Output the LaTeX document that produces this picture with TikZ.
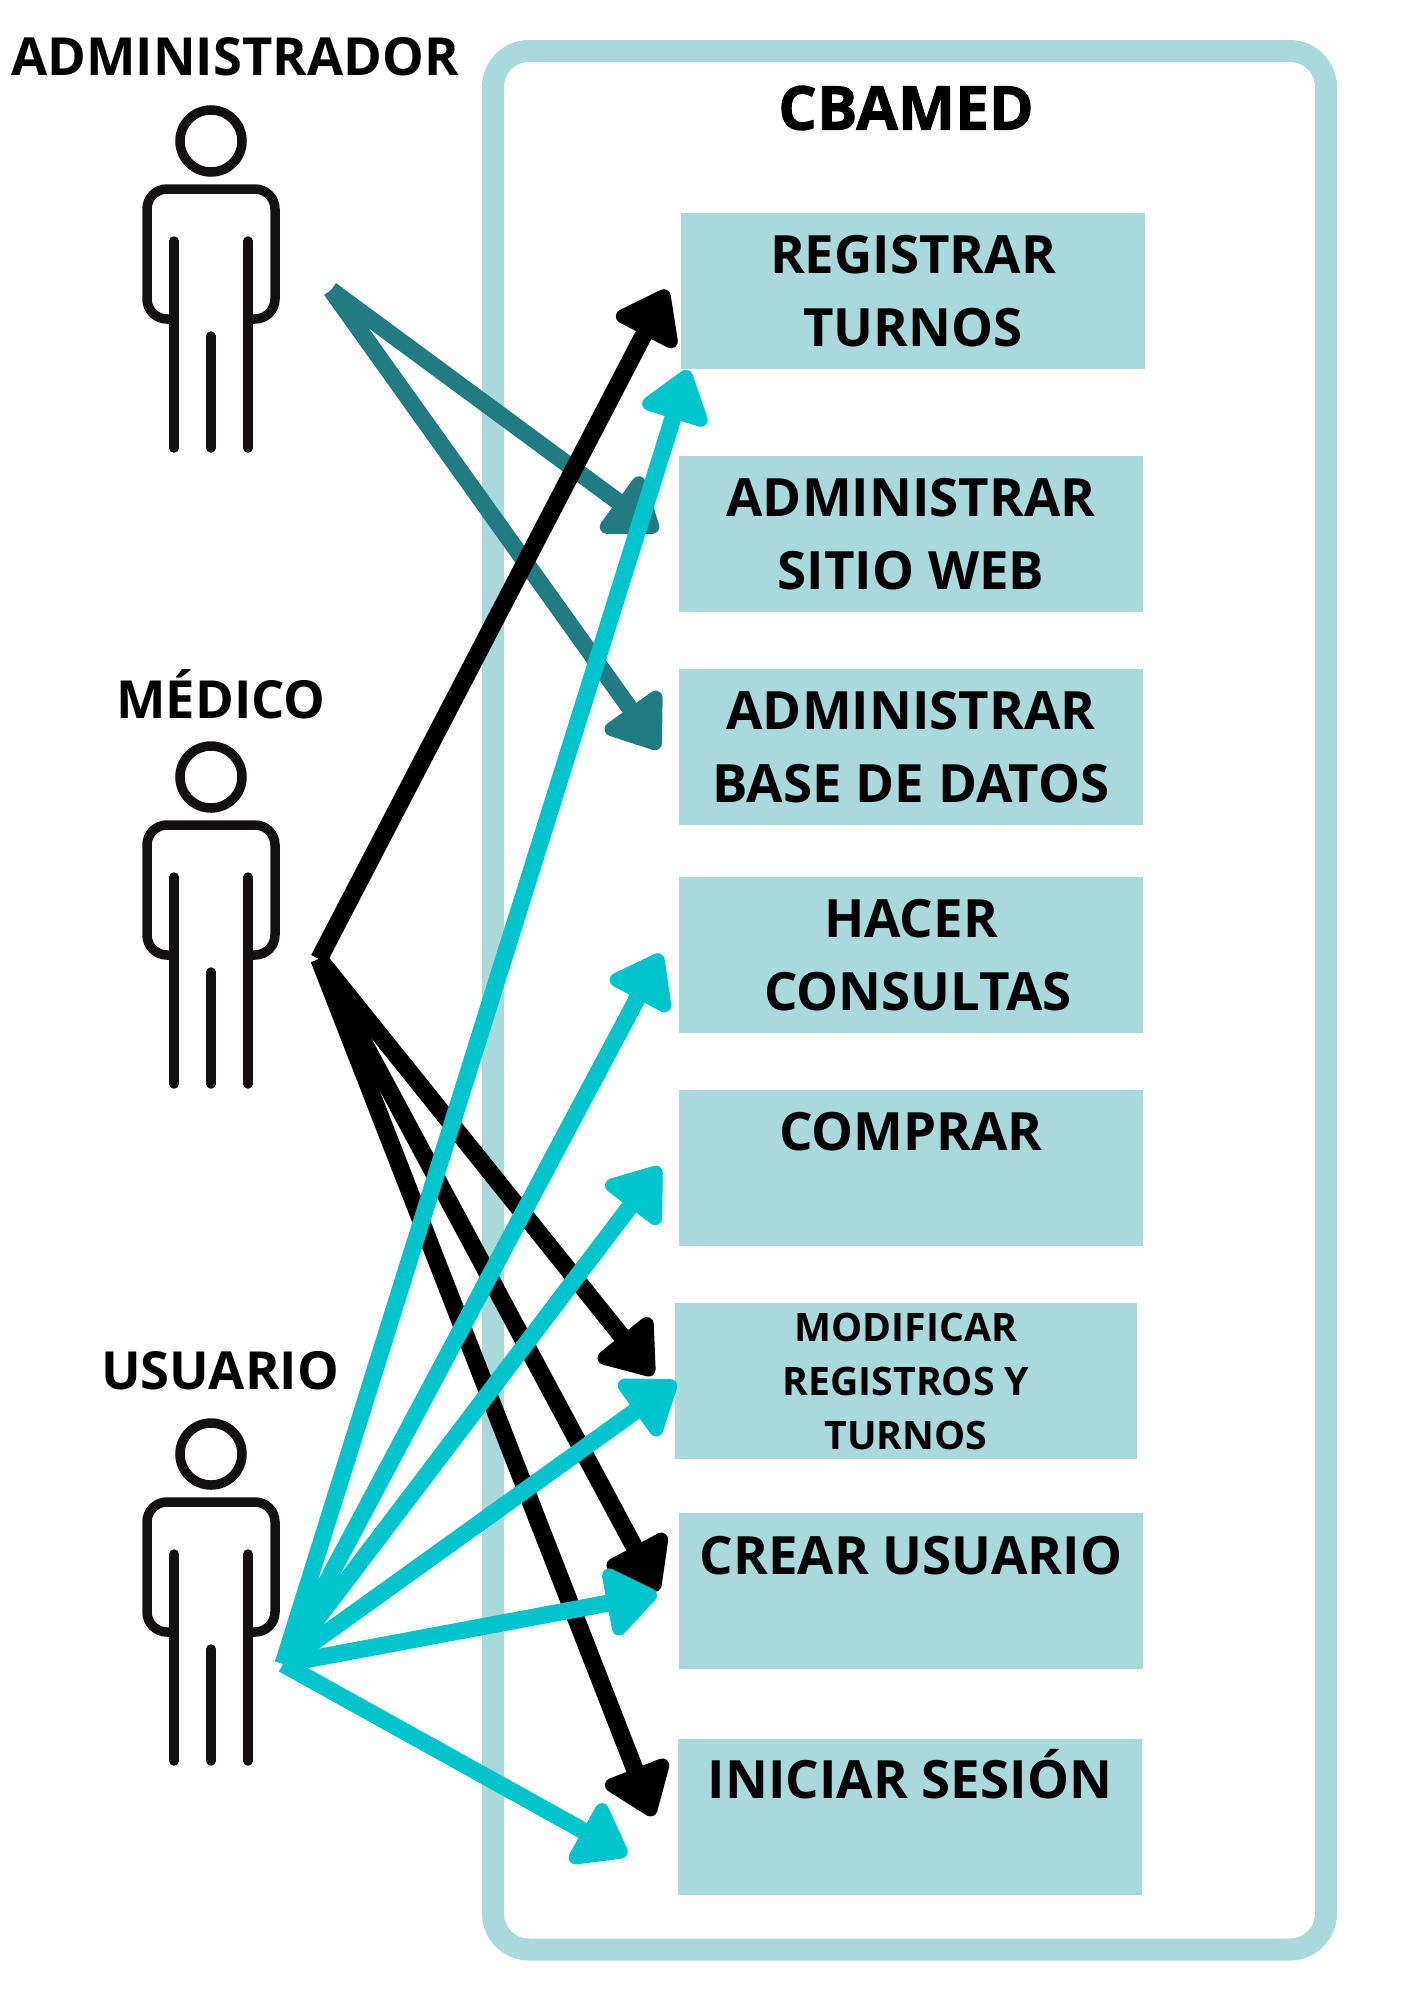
\documentclass[tikz,border=0pt]{standalone}
\usepackage{fontspec}
\setmainfont{Open Sans}
\newfontfamily\heavyfont[BoldFeatures={FakeBold=1.5}]{Open Sans}
\usetikzlibrary{positioning,arrows.meta}
\definecolor{boxblue}{HTML}{A9D9DA}
\definecolor{tealarrow}{HTML}{237B82}
\definecolor{cyanarrow}{HTML}{00C4CC}
\definecolor{actorblack}{HTML}{140F10}

\newcommand{\drawactor}[3]{%
  \node[actorhead] (#1) at (#2,#3) {};
  \begin{scope}[shift={(#2,#3)}]
    \draw[actorline,rounded corners=20pt] (-37,178) -- (-64,178) -- (-64,48) -- (64,48) -- (64,178) -- (37,178);
    \draw[actorline,line cap=round] (-37,100) -- (-37,307);
    \draw[actorline,line cap=round] (0,195) -- (0,307);
    \draw[actorline,line cap=round] (37,100) -- (37,307);
  \end{scope}
}

\begin{document}
\begin{tikzpicture}[
    x=1pt,y=-1pt,
    actorhead/.style={circle,draw=actorblack,line width=9.5pt,minimum size=62pt,inner sep=0pt},
    actorline/.style={draw=actorblack,line width=9.5pt},
    actorname/.style={font=\bfseries\fontsize{52.5}{60}\selectfont,inner sep=0pt},
    usecase/.style={fill=boxblue,minimum width=464pt,minimum height=156pt,inner sep=0pt,align=center,
      font=\bfseries\fontsize{52.8}{73}\selectfont},
    teal/.style={draw=tealarrow,line width=17pt,-{Triangle[length=56pt,width=78pt,line width=14pt,round,fill=tealarrow,color=tealarrow]}},
    black/.style={draw=black,line width=17.5pt,-{Triangle[length=56pt,width=78pt,line width=14pt,round]}},
    cyan/.style={draw=cyanarrow,line width=17pt,-{Triangle[length=56pt,width=78pt,line width=14pt,round,fill=cyanarrow,color=cyanarrow]}}]
    \useasboundingbox (0,0) rectangle (1414,2000);
    \draw[boxblue,line width=22pt,rounded corners=36pt] (493,51) rectangle (1326,1949.5);
    \node[font=\heavyfont\bfseries\fontsize{60.5}{70}\selectfont,inner sep=0pt] (cbamed) at (906,108) {CBAMED};

    \node[usecase] (registrar) at (913,291) {REGISTRAR\\TURNOS};
    \node[usecase] (sitio) [below=87pt of registrar,xshift=-2pt] {ADMINISTRAR\\SITIO WEB};
    \node[usecase] (base) [below=56pt of sitio] {ADMINISTRAR\\BASE DE DATOS};
    \node[usecase] (consultas) [below=52pt of base] {HACER\\\ CONSULTAS};
    \node[usecase] (comprar) [below=56pt of consultas] {COMPRAR\\\mbox{}};
    \node[usecase,minimum width=462pt,font=\bfseries\fontsize{39.2}{54}\selectfont] (modificar) [below=57pt of comprar,xshift=-5pt] {MODIFICAR\\REGISTROS Y\\TURNOS};
    \node[usecase] (crear) [below=54pt of modificar,xshift=5pt] {CREAR USUARIO\\\mbox{}};
    \node[usecase] (iniciar) [below=69pt of crear,xshift=-1pt] {INICIAR SESIÓN\\[12pt]\mbox{}};

    \drawactor{administrador}{211}{141}
    \drawactor{medico}{211}{777}
    \drawactor{usuario}{211}{1454}
    \node[actorname] (adminname) [above=29pt of administrador,xshift=24pt] {ADMINISTRADOR};
    \node[actorname] (mediconame) [above=22pt of medico,xshift=10pt] {MÉDICO};
    \node[actorname] (usuarioname) [above=28.5pt of usuario,xshift=9pt] {USUARIO};

    \coordinate (adminout) at (331,290);
    \coordinate (medicoout) at (319,959);
    \coordinate (usuarioout) at (283,1664);
    \coordinate (tealsitio) at (658,531);
    \coordinate (tealbase) at (659,749);
    \coordinate (blackregistrar) at (667,290);
    \coordinate (blackmodificar) at (653,1375);
    \coordinate (blackcrear) at (658,1591);
    \coordinate (blackiniciar) at (653,1816);
    \coordinate (cyanregistrar) at (688,370);
    \coordinate (cyanconsultas) at (661,954);
    \coordinate (cyancomprar) at (660,1167);
    \coordinate (cyanmodificar) at (676,1382);
    \coordinate (cyancrear) at (657,1594);
    \coordinate (cyaniniciar) at (627,1855);

    \draw[teal] (adminout) -- (tealsitio);
    \draw[teal] (adminout) -- (tealbase);
    \draw[black] (medicoout) -- (blackregistrar);
    \draw[black] (medicoout) -- (blackmodificar);
    \draw[black] (medicoout) -- (blackcrear);
    \draw[black] (medicoout) -- (blackiniciar);
    \draw[cyan] (usuarioout) -- (cyanregistrar);
    \draw[cyan] (usuarioout) -- (cyanconsultas);
    \draw[cyan] (usuarioout) -- (cyancomprar);
    \draw[cyan] (usuarioout) -- (cyanmodificar);
    \draw[cyan] (usuarioout) -- (cyancrear);
    \draw[cyan] (usuarioout) -- (cyaniniciar);
\end{tikzpicture}
\end{document}
